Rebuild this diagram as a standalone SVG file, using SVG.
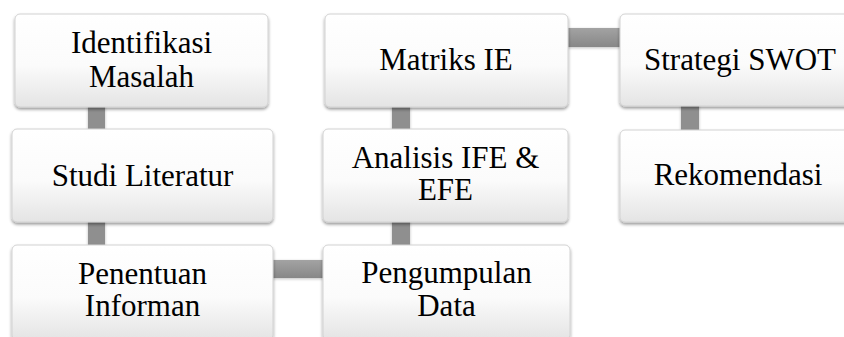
<svg xmlns="http://www.w3.org/2000/svg" width="844" height="337" viewBox="0 0 844 337">
<defs>
<linearGradient id="boxg" x1="0" y1="0" x2="0" y2="1">
<stop offset="0" stop-color="#ffffff"/>
<stop offset="0.55" stop-color="#fbfbfb"/>
<stop offset="1" stop-color="#e4e4e4"/>
</linearGradient>
<linearGradient id="hg" x1="0" y1="0" x2="0" y2="1">
<stop offset="0" stop-color="#a3a3a3"/>
<stop offset="1" stop-color="#878787"/>
</linearGradient>
<filter id="sh" x="-10%" y="-10%" width="120%" height="130%">
<feDropShadow dx="0" dy="2" stdDeviation="1.8" flood-color="#000" flood-opacity="0.4"/>
</filter>
<filter id="csh" x="-30%" y="-30%" width="160%" height="160%">
<feDropShadow dx="0" dy="1" stdDeviation="1.5" flood-color="#000" flood-opacity="0.25"/>
</filter>
</defs>
<style>
.box{fill:url(#boxg);stroke:#d2d2d2;stroke-width:1;filter:url(#sh)}
.v{fill:#8f8f8f;filter:url(#csh)}
.h{fill:url(#hg);filter:url(#csh)}
text{font-family:"Liberation Serif","Times New Roman",serif;font-size:31px;fill:#000;text-anchor:middle}
</style>
<rect width="844" height="337" fill="#ffffff"/>
<g id="connectors">
<rect class="v" x="88" y="100" width="17" height="36"/>
<rect class="v" x="88" y="215" width="17" height="36"/>
<rect class="h" x="265" y="260" width="62" height="18"/>
<rect class="v" x="392" y="100" width="18" height="36"/>
<rect class="v" x="392" y="215" width="18" height="36"/>
<rect class="h" x="562" y="28" width="62" height="19"/>
<rect class="v" x="681" y="100" width="18" height="36"/>
</g>
<g id="identifikasi">
<rect class="box" x="15" y="14" width="253" height="93" rx="5"/>
<text x="141.5" y="53">Identifikasi</text>
<text x="141.5" y="87">Masalah</text>
</g>
<g id="studi">
<rect class="box" x="12" y="129" width="261" height="93" rx="5"/>
<text x="142.5" y="186">Studi Literatur</text>
</g>
<g id="penentuan">
<rect class="box" x="12" y="245" width="261" height="95" rx="5"/>
<text x="142.5" y="284">Penentuan</text>
<text x="142.5" y="316">Informan</text>
</g>
<g id="pengumpulan">
<rect class="box" x="323" y="245" width="247" height="95" rx="5"/>
<text x="446.5" y="283">Pengumpulan</text>
<text x="446.5" y="316">Data</text>
</g>
<g id="analisis">
<rect class="box" x="323" y="129" width="245" height="93" rx="5"/>
<text x="445.5" y="168">Analisis IFE &amp;</text>
<text x="445.5" y="200">EFE</text>
</g>
<g id="matriks">
<rect class="box" x="325" y="14" width="243" height="93" rx="5"/>
<text x="446" y="70">Matriks IE</text>
</g>
<g id="strategi">
<rect class="box" x="620" y="14" width="250" height="92" rx="5"/>
<text x="740" y="70">Strategi SWOT</text>
</g>
<g id="rekomendasi">
<rect class="box" x="620" y="130" width="250" height="92" rx="5"/>
<text x="738" y="185">Rekomendasi</text>
</g>
</svg>
